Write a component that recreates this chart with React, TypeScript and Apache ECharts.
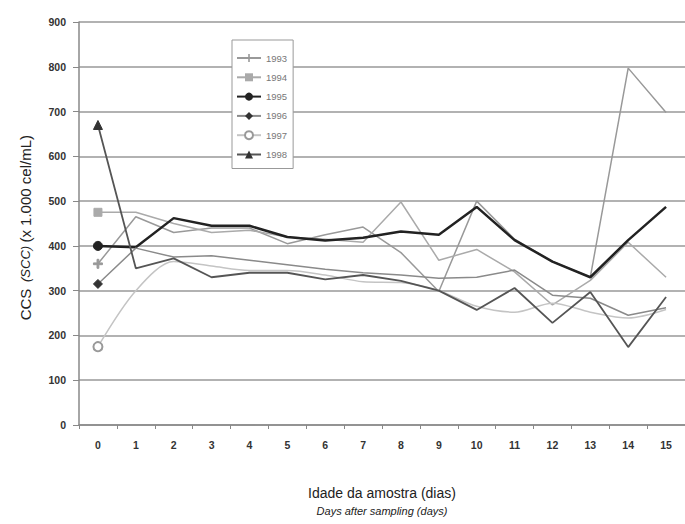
import React, { useEffect, useRef } from "react";
import * as echarts from "echarts";

const days = ["0", "1", "2", "3", "4", "5", "6", "7", "8", "9", "10", "11", "12", "13", "14", "15"];
const s1993 = [360, 465, 430, 440, 440, 405, 425, 442, 385, 298, 500, 415, 365, 330, 797, 698];
const s1994 = [475, 475, 450, 430, 435, 420, 415, 408, 498, 368, 392, 342, 268, 323, 408, 330];
const s1995 = [400, 397, 462, 445, 445, 420, 412, 418, 432, 425, 487, 413, 365, 330, 413, 487];
const s1996 = [315, 395, 375, 378, 368, 358, 348, 340, 335, 328, 330, 346, 290, 283, 245, 262];
const s1997 = [175, 300, 365, 355, 345, 345, 335, 320, 318, 300, 265, 252, 272, 252, 239, 258];
const s1998 = [670, 350, 372, 330, 340, 340, 325, 335, 322, 300, 257, 306, 228, 297, 174, 286];
const yTicks = { min: 0, max: 900, interval: 100 };

const plusPath = "path://M4,0 L6,0 L6,4 L10,4 L10,6 L6,6 L6,10 L4,10 L4,6 L0,6 L0,4 L4,4 Z";

function mk(name: string, vals: number[], color: string, width: number, symbol: string, size: number, extra: any = {}) {
  return {
    name,
    type: "line",
    data: vals.map((v, i) => (i === 0 ? { value: v, symbolSize: size } : { value: v, symbolSize: 0 })),
    symbol,
    symbolSize: size,
    showSymbol: true,
    lineStyle: { color, width },
    itemStyle: { color, borderColor: color },
    emphasis: { disabled: true },
    ...extra,
  };
}

export default function App() {
  const ref = useRef<HTMLDivElement>(null);
  useEffect(() => {
    if (!ref.current) return;
    const chart = echarts.init(ref.current, undefined, { renderer: "svg" });
    chart.setOption({
      animation: false,
      backgroundColor: "#fff",
      grid: { left: 79, right: 0, top: 22, bottom: 99 },
      xAxis: {
        type: "category",
        data: days,
        boundaryGap: true,
        axisLine: { lineStyle: { color: "#888", width: 1.5 } },
        axisTick: { show: true, length: 4, lineStyle: { color: "#888" } },
        axisLabel: { margin: 14, fontSize: 10.5, fontWeight: "bold", fontFamily: "Arial, Liberation Sans", color: "#333" },
      },
      yAxis: {
        type: "value",
        ...yTicks,
        axisLine: { show: true, lineStyle: { color: "#888", width: 1.5 } },
        axisTick: { show: true, length: 6, lineStyle: { color: "#888" } },
        splitLine: { lineStyle: { color: "#999", width: 1.5 } },
        axisLabel: { margin: 13, fontSize: 10.5, fontWeight: "bold", fontFamily: "Arial, Liberation Sans", color: "#333" },
      },
      legend: {
        orient: "vertical",
        left: 232,
        top: 40,
        width: 58,
        padding: [13, 6, 9, 4],
        itemGap: 9.3,
        itemWidth: 24,
        itemHeight: 10,
        backgroundColor: "#fff",
        borderColor: "#999",
        borderWidth: 1,
        textStyle: { fontSize: 9.5, color: "#777", fontFamily: "Arial, Liberation Sans" },
        data: ["1993", "1994", "1995", "1996", "1997", "1998"],
      },
      series: [
        mk("1993", s1993, "#999", 1.5, plusPath, 9),
        mk("1994", s1994, "#aaa", 1.5, "rect", 8),
        mk("1995", s1995, "#222", 2.5, "circle", 9),
        mk("1996", s1996, "#8a8a8a", 1.5, "diamond", 9, { itemStyle: { color: "#333", borderColor: "#333" } }),
        mk("1997", s1997, "#c4c4c4", 1.5, "emptyCircle", 9, {
          smooth: 0.3,
          itemStyle: { color: "#999", borderColor: "#999", borderWidth: 1.5 },
        }),
        mk("1998", s1998, "#555", 1.8, "triangle", 9, { itemStyle: { color: "#333", borderColor: "#333" } }),
      ],
      graphic: [
        {
          type: "text",
          left: 18,
          top: 135,
          rotation: Math.PI / 2,
          style: {
            text: "{a|CCS}  {b|(SCC)} {a|(x 1.000 cel/mL)}",
            rich: {
              a: { fontSize: 15, fontFamily: "Arial, Liberation Sans", fill: "#222" },
              b: { fontSize: 13, fontStyle: "italic", fontFamily: "Arial, Liberation Sans", fill: "#222" },
            },
          },
        },
        {
          type: "text",
          x: 382,
          y: 493,
          style: {
            text: "Idade da amostra (dias)",
            fontSize: 14,
            fontFamily: "Arial, Liberation Sans",
            fill: "#222",
            align: "center",
            verticalAlign: "middle",
          },
        },
        {
          type: "text",
          x: 382,
          y: 511,
          style: {
            text: "Days after sampling (days)",
            fontSize: 11,
            fontStyle: "italic",
            fontFamily: "Arial, Liberation Sans",
            fill: "#222",
            align: "center",
            verticalAlign: "middle",
          },
        },
      ],
    });
    return () => chart.dispose();
  }, []);
  return <div ref={ref} style={{ position: "fixed", left: 0, top: 0, width: 685, height: 524 }} />;
}
